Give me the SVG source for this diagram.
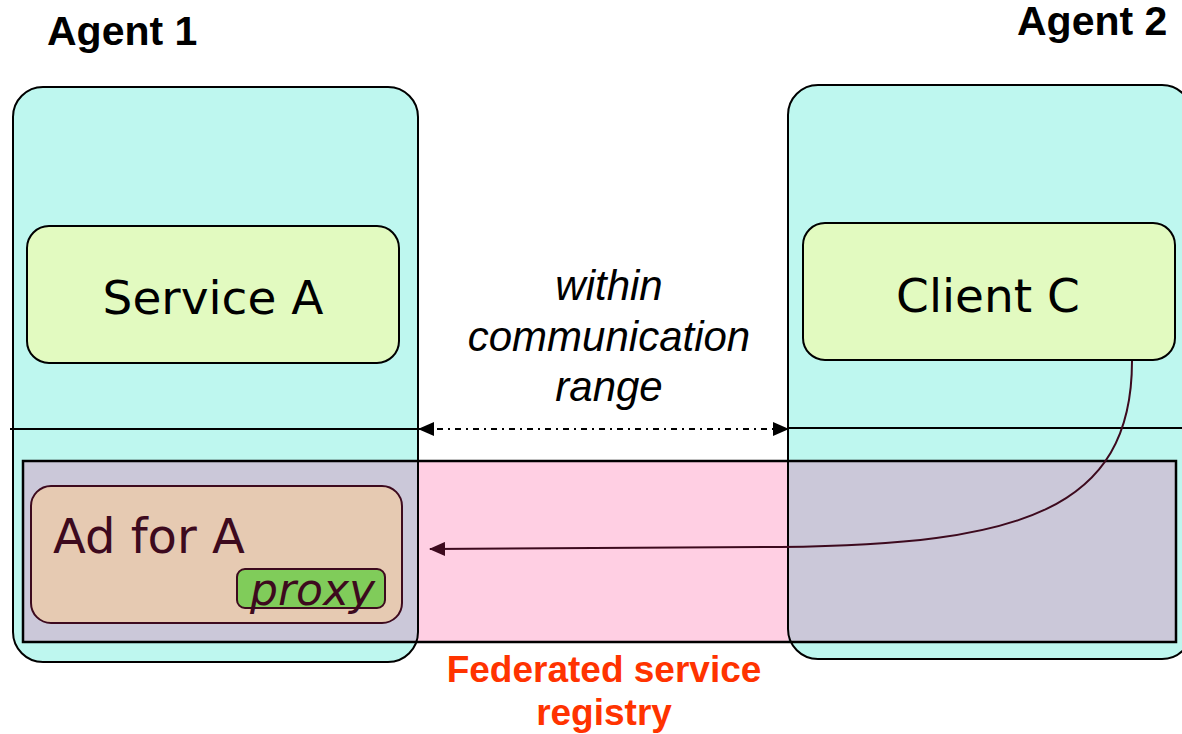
<svg xmlns="http://www.w3.org/2000/svg" width="1182" height="734" viewBox="0 0 1182 734">
  <style>
    .agent-fill { fill: #bef7ef; stroke: none; }
    .agent-line { fill: none; stroke: #000; stroke-width: 2; }
    .overlap { fill: #cbc8d9; stroke: none; }
    .component { fill: #e2fac0; stroke: #000; stroke-width: 2; }
    .label-big { font-family: "DejaVu Sans", Verdana, sans-serif; font-size: 47px; fill: #000; }
    .agent-title { font-family: "Liberation Sans", Arial, sans-serif; font-weight: bold; font-size: 41px; fill: #000; }
    .note { font-family: "Liberation Sans", Arial, sans-serif; font-style: italic; font-size: 42px; fill: #000; text-anchor: middle; }
    .registry-title { font-family: "Liberation Sans", Arial, sans-serif; font-weight: bold; font-size: 37px; fill: #ff3300; text-anchor: middle; }
    .ad { fill: #e6cab2; stroke: #3d0a1e; stroke-width: 2; }
    .ad-text { font-family: "DejaVu Sans", Verdana, sans-serif; font-size: 48px; fill: #3d0a1e; }
    .proxy-text { font-family: "DejaVu Sans", Verdana, sans-serif; font-size: 44px; font-style: italic; fill: #3d0a1e; }
  </style>
  <defs>
    <marker id="arrowBlack" viewBox="0 0 16 14" refX="15" refY="7" markerWidth="16" markerHeight="14" markerUnits="userSpaceOnUse" orient="auto-start-reverse">
      <path d="M0,0 L16,7 L0,14 Z" fill="#000"/>
    </marker>
    <marker id="arrowMaroon" viewBox="0 0 16 14" refX="15" refY="7" markerWidth="16" markerHeight="14" markerUnits="userSpaceOnUse" orient="auto">
      <path d="M0,0 L16,7 L0,14 Z" fill="#3d0a1e"/>
    </marker>
  </defs>

  <rect width="1182" height="734" fill="#fff"/>

  <!-- agent backgrounds -->
  <rect class="agent-fill" x="13" y="87" width="405" height="575" rx="30"/>
  <rect class="agent-fill" x="788" y="85" width="404" height="574" rx="30"/>

  <!-- federated registry band -->
  <g id="registry">
    <rect x="23" y="461" width="1153" height="181" fill="#ffcfe3"/>
    <rect class="overlap" x="23" y="461" width="395" height="181"/>
    <rect class="overlap" x="788" y="461" width="388" height="181"/>
  </g>

  <!-- agent outlines and separators -->
  <g id="agent1">
    <rect class="agent-line" x="13" y="87" width="405" height="575" rx="30"/>
    <line x1="10" y1="429" x2="418" y2="429" stroke="#000" stroke-width="2"/>
    <text class="agent-title" x="47" y="45">Agent 1</text>
  </g>
  <g id="agent2">
    <rect class="agent-line" x="788" y="85" width="404" height="574" rx="30"/>
    <line x1="788" y1="428" x2="1182" y2="428" stroke="#000" stroke-width="2"/>
    <text class="agent-title" x="1017" y="35">Agent 2</text>
  </g>

  <g id="registry-outline">
    <rect x="23" y="461" width="1153" height="181" fill="none" stroke="#000" stroke-width="2.5"/>
    <text class="registry-title" x="604" y="682">Federated service</text>
    <text class="registry-title" x="604" y="725">registry</text>
  </g>

  <g id="service-a">
    <rect class="component" x="27" y="226" width="372" height="137" rx="22"/>
    <text class="label-big" x="213" y="314" text-anchor="middle">Service A</text>
  </g>

  <g id="client-c">
    <rect class="component" x="803" y="223" width="372" height="137" rx="22"/>
    <text class="label-big" x="988" y="312" text-anchor="middle">Client C</text>
  </g>

  <g id="ad-for-a">
    <rect class="ad" x="31" y="486" width="371" height="137" rx="20"/>
    <text class="ad-text" x="53" y="553">Ad for A</text>
    <rect x="237" y="569" width="148" height="39" rx="8" fill="#80cc5a" stroke="#3d0a1e" stroke-width="2"/>
    <text class="proxy-text" x="250" y="605">proxy</text>
  </g>

  <g id="range-note">
    <text class="note" x="609" y="300">within</text>
    <text class="note" x="609" y="351">communication</text>
    <text class="note" x="609" y="401">range</text>
  </g>

  <g id="connectors">
    <line x1="419" y1="429" x2="788" y2="429" stroke="#000" stroke-width="2" stroke-dasharray="6 5 2 5" marker-start="url(#arrowBlack)" marker-end="url(#arrowBlack)"/>
    <path d="M1132,361 C1132,510 1020,545 780,547 L430,549" fill="none" stroke="#3d0a1e" stroke-width="2" marker-end="url(#arrowMaroon)"/>
  </g>
</svg>
